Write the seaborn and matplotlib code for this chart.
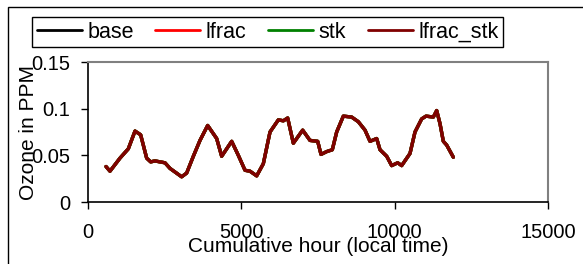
import numpy as np
import pandas as pd
import matplotlib
matplotlib.use("Agg")
import matplotlib.pyplot as plt
import matplotlib.patches as mpatches
import seaborn as sns

# ── data ───────────────────────────────────────────────────────────────────
hours = [587, 717, 1043, 1315, 1533, 1717, 1913, 2043, 2185, 2511, 2674,
         3054, 3217, 3435, 3652, 3902, 4196, 4359, 4685, 4902, 5120, 5283,
         5500, 5717, 5935, 6207, 6370, 6511, 6696, 7000, 7239, 7490, 7598,
         7783, 7967, 8109, 8326, 8598, 8815, 9033, 9196, 9413, 9522, 9740,
         9902, 10098, 10228, 10500, 10663, 10880, 11022, 11261, 11370,
         11478, 11587, 11696, 11913]
ozone = [0.038, 0.033, 0.047, 0.057, 0.076, 0.072, 0.047, 0.043, 0.044,
         0.042, 0.036, 0.027, 0.031, 0.049, 0.066, 0.082, 0.068, 0.049,
         0.065, 0.050, 0.034, 0.033, 0.028, 0.041, 0.075, 0.088, 0.087,
         0.090, 0.063, 0.077, 0.066, 0.065, 0.051, 0.054, 0.056, 0.075,
         0.092, 0.091, 0.086, 0.077, 0.065, 0.068, 0.056, 0.049, 0.039,
         0.042, 0.039, 0.052, 0.075, 0.089, 0.092, 0.091, 0.098, 0.084,
         0.065, 0.061, 0.048]

series_names = ["base", "lfrac", "stk", "lfrac_stk"]
series_colors = ["#000000", "#FF0000", "#008000", "#800000"]
# the four runs sit on top of each other at this scale
series_values = {"base": ozone, "lfrac": ozone, "stk": ozone, "lfrac_stk": ozone}

x_ticks = [0, 5000, 10000, 15000]
y_ticks = [0, 0.05, 0.1, 0.15]
y_ticklabels = ["0", "0.05", "0.1", "0.15"]

df = pd.concat(
    [pd.DataFrame({"hour": hours, "ozone": series_values[n], "run": n})
     for n in series_names],
    ignore_index=True,
)

sns.set_style("ticks")
plt.rcParams["font.family"] = ["Liberation Sans", "DejaVu Sans"]
plt.rcParams.update({"text.color": "black", "axes.labelcolor": "black",
                     "xtick.color": "black", "ytick.color": "black"})

fig = plt.figure(figsize=(5.83, 2.64), dpi=100)
ax = fig.add_axes([88 / 583, 1 - 202 / 264, 460 / 583, 140 / 264])

sns.lineplot(
    data=df, x="hour", y="ozone", hue="run", hue_order=series_names,
    palette=dict(zip(series_names, series_colors)),
    linewidth=2.4, ax=ax, legend=False, estimator=None, sort=False,
)

ax.set_xlim(0, 15000)
ax.set_ylim(0, 0.15)
ax.set_xticks(x_ticks)
ax.set_xticklabels([str(t) for t in x_ticks])
ax.set_yticks(y_ticks)
ax.set_yticklabels(y_ticklabels)
ax.tick_params(axis="x", direction="out", length=5, width=1, pad=10,
               labelsize=14.5, color="black", labelcolor="black")
ax.tick_params(axis="y", direction="out", length=5, width=1, pad=8,
               labelsize=14.5, color="black", labelcolor="black")

for side in ["top", "right"]:
    ax.spines[side].set_visible(True)
    ax.spines[side].set_color("#808080")
    ax.spines[side].set_linewidth(1.5)
for side in ["left", "bottom"]:
    ax.spines[side].set_color("black")
    ax.spines[side].set_linewidth(1.2)

ax.set_xlabel("Cumulative hour (local time)", fontsize=15, color="black")
ax.set_ylabel("Ozone in PPM", fontsize=15, color="black")
ax.xaxis.set_label_coords(0.5, -0.321)
ax.xaxis.label.set_va("center")
ax.yaxis.set_label_coords(-0.13, 0.5)
ax.yaxis.label.set_va("center")

# ── legend ─────────────────────────────────────────────────────────────
handles = [plt.Line2D([], [], color=c, lw=2) for c in series_colors]
leg = fig.legend(
    handles, series_names, loc="center", ncol=4,
    bbox_to_anchor=(267.5 / 583, 1 - 32 / 264), fontsize=15.5,
    frameon=True, fancybox=False, shadow=False, framealpha=1,
    handlelength=2.1, handletextpad=0.25, columnspacing=1.0,
    borderpad=0.22, borderaxespad=0, labelcolor="black",
)
leg.get_frame().set_edgecolor("black")
leg.get_frame().set_linewidth(1.0)

# outer chart-area frame
fig.patches.append(mpatches.Rectangle(
    (8 / 583, -0.2), 1.5, 1.2 - 7 / 264, transform=fig.transFigure,
    fill=False, edgecolor="black", linewidth=1.0, figure=fig,
))

fig.savefig("out.png", dpi=100)
